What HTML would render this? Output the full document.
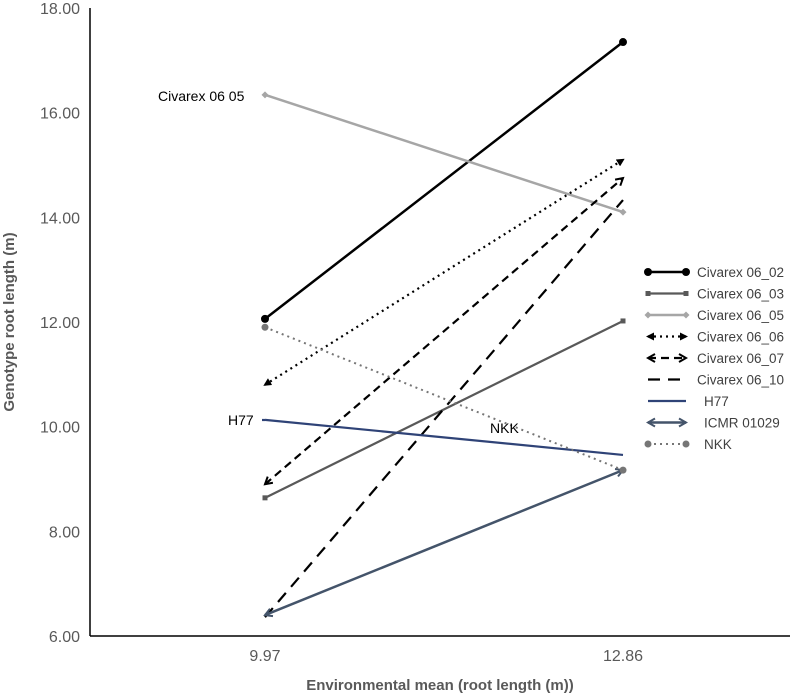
<!DOCTYPE html>
<html><head><meta charset="utf-8"><style>
body{margin:0;background:#fff;}
svg{display:block;font-family:"Liberation Sans",sans-serif;}
</style></head><body>
<svg id="chart" width="800" height="697" viewBox="0 0 800 697">
<defs>
<marker id="arrB" markerWidth="8" markerHeight="8" refX="6" refY="4" orient="auto-start-reverse" markerUnits="userSpaceOnUse"><path d="M0,0 L8,4 L0,8 z" fill="#000"/></marker>
<marker id="arrOpen" markerWidth="10" markerHeight="10" refX="8" refY="5" orient="auto-start-reverse" markerUnits="userSpaceOnUse"><path d="M1,1 L8,5 L1,9" fill="none" stroke="#44546a" stroke-width="2"/></marker>
<marker id="arrOpenK" markerWidth="10" markerHeight="10" refX="8" refY="5" orient="auto-start-reverse" markerUnits="userSpaceOnUse"><path d="M1,1 L8,5 L1,9" fill="none" stroke="#000" stroke-width="2"/></marker>
</defs>
<g id="axes"></g>
<g id="series"></g>
<g id="legend"></g>
</svg>
<script>
const categories = ["9.97", "12.86"];
const yTicks = [6, 8, 10, 12, 14, 16, 18];
const names = ["Civarex 06_02","Civarex 06_03","Civarex 06_05","Civarex 06_06","Civarex 06_07","Civarex 06_10","H77","ICMR 01029","NKK"];
const v0602 = [12.06, 17.35];
const v0603 = [8.64, 12.02];
const v0605 = [16.34, 14.1];
const v0606 = [10.8, 15.1];
const v0607 = [8.9, 14.75];
const v0610 = [6.36, 14.33];
const vH77 = [10.13, 9.46];
const vICMR = [6.4, 9.17];
const vNKK = [11.9, 9.17];

const NS = "http://www.w3.org/2000/svg";
const y = v => 636 - (v - 6) * (628 / 12);
const x = i => 265 + i * 358;
function mk(tag, attrs, parent, txt){const e=document.createElementNS(NS,tag);for(const k in attrs)e.setAttribute(k,attrs[k]);if(txt!==undefined)e.textContent=txt;parent.appendChild(e);return e;}
const axes=document.getElementById('axes'), ser=document.getElementById('series'), leg=document.getElementById('legend');

let yl=mk('line',{x1:90,y1:8,x2:90,y2:636,stroke:'#000','stroke-width':1.5},axes);


let xl=mk('line',{x1:90,y1:636,x2:790,y2:636,stroke:'#000','stroke-width':1.5},axes);


yTicks.forEach(t=>{
  let e=mk('text',{x:80,y:y(t)+6,'text-anchor':'end','font-size':16,fill:'#595959'},axes,t.toFixed(2));
  
  
});
categories.forEach((c,i)=>{
  let e=mk('text',{x:x(i),y:661,'text-anchor':'middle','font-size':16,fill:'#595959'},axes,c);
  
  
});
let xt=mk('text',{x:440,y:690,'text-anchor':'middle','font-size':15,'font-weight':'bold',fill:'#595959'},axes,'Environmental mean (root length (m))');


let yt=mk('text',{x:0,y:0,'text-anchor':'middle','font-size':15,'font-weight':'bold',fill:'#595959',transform:'translate(14,322) rotate(-90)'},axes,'Genotype root length (m)');



const styles = [
 {d:v0602,c:'#000',w:2.5,dash:'',m:'dot',r:4},
 {d:v0603,c:'#595959',w:2.2,dash:'',m:'sq',r:2.5},
 {d:v0605,c:'#a6a6a6',w:2.5,dash:'',m:'dia',r:3.5},
 {d:v0606,c:'#000',w:2.2,dash:'2 4',m:'arrB'},
 {d:v0607,c:'#000',w:2.2,dash:'8 5',m:'arrOpenK'},
 {d:v0610,c:'#000',w:2.2,dash:'12 8',m:''},
 {d:vH77,c:'#2f4377',w:2.2,dash:'',m:''},
 {d:vICMR,c:'#44546a',w:2.5,dash:'',m:'arrOpen'},
 {d:vNKK,c:'#767676',w:2,dash:'2 4',m:'dot',r:3.5}
];
function marker(s,cx,cy,g){
  if(s.m==='dot') mk('circle',{cx,cy,r:s.r,fill:s.c},g);
  else if(s.m==='sq') mk('rect',{x:cx-s.r,y:cy-s.r,width:2*s.r,height:2*s.r,fill:s.c},g);
  else if(s.m==='dia') mk('path',{d:`M${cx-s.r},${cy} L${cx},${cy-s.r} L${cx+s.r},${cy} L${cx},${cy+s.r} z`,fill:s.c},g);
}
styles.forEach((s,k)=>{
  const g=mk('g',{},ser);
  
  
  const a={x1:x(0),y1:y(s.d[0]),x2:x(1),y2:y(s.d[1]),stroke:s.c,'stroke-width':s.w};
  if(s.dash)a['stroke-dasharray']=s.dash;
  if(s.m.startsWith('arr')){a['marker-start']=`url(#${s.m})`;a['marker-end']=`url(#${s.m})`;}
  mk('line',a,g);
  marker(s,x(0),y(s.d[0]),g);marker(s,x(1),y(s.d[1]),g);
  // legend
  const ly=272+k*21.5;
  const lg=mk('g',{},leg);
  
  
  const la={x1:648,y1:ly,x2:686,y2:ly,stroke:s.c,'stroke-width':s.w};
  if(s.dash)la['stroke-dasharray']=s.dash;
  if(s.m.startsWith('arr')){la['marker-start']=`url(#${s.m})`;la['marker-end']=`url(#${s.m})`;}
  mk('line',la,lg);
  marker(s,648,ly,lg);marker(s,686,ly,lg);
  mk('text',{x:k>=6?704:697,y:ly+5,'font-size':13.5,fill:'#404040'},lg,names[k]);
});
const labels=[["Civarex 06 05",158,101],["H77",228,425],["NKK",490,433]];
labels.forEach(l=>{
  let e=mk('text',{x:l[1],y:l[2],'font-size':14,fill:'#000'},ser,l[0]);
  
  
});
mk('line',{x1:262,y1:420,x2:265,y2:420,stroke:'#2f4377','stroke-width':2.2},ser);
</script>
</body></html>
